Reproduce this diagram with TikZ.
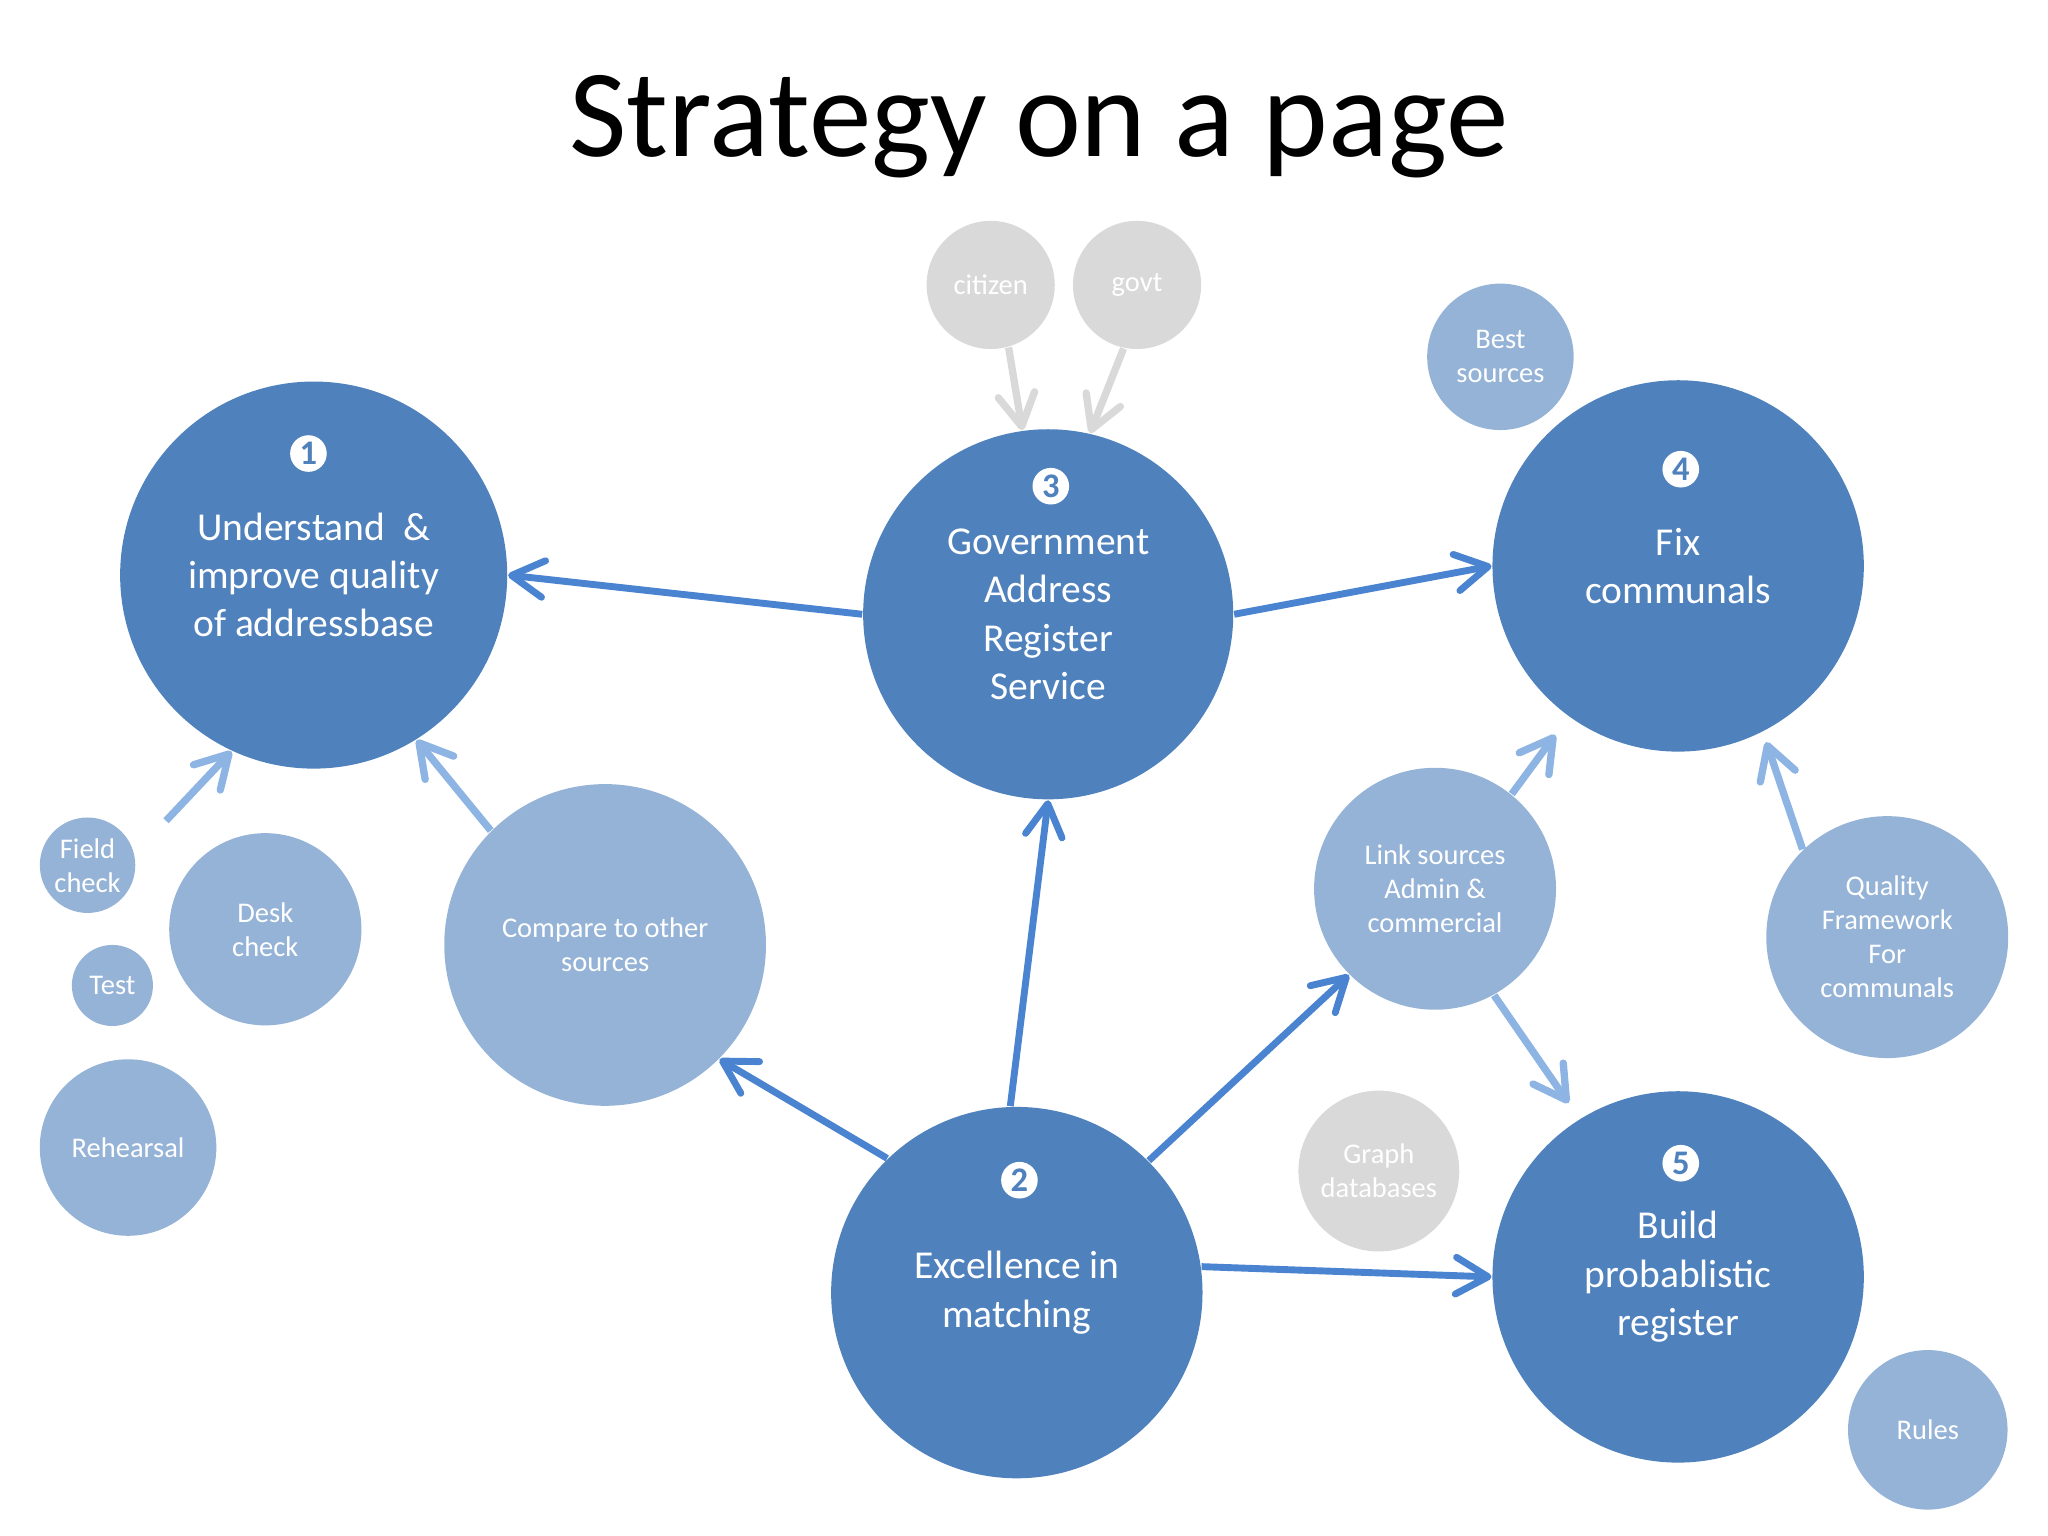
\documentclass[tikz,border=0pt]{standalone}
\usepackage{fontspec}
\setmainfont{Carlito}
\usetikzlibrary{arrows.meta}
\definecolor{goalblue}{HTML}{4F81BD}
\definecolor{taskblue}{HTML}{95B3D7}
\definecolor{arrowblue}{HTML}{4A83CF}
\definecolor{feedblue}{HTML}{8DB4E2}
\definecolor{extgray}{HTML}{D9D9D9}
\begin{document}
\begin{tikzpicture}[x=0.01cm, y=-0.01cm,
goal/.style={circle, fill=goalblue, text=white, inner sep=0pt, align=center, font=\fontsize{8.6}{10.5}\selectfont},
task/.style={circle, fill=taskblue, text=white, inner sep=0pt, align=center, font=\fontsize{6.2}{7.4}\selectfont},
ext/.style={circle, fill=extgray, text=white, inner sep=0pt, align=center, font=\fontsize{6.2}{7.4}\selectfont},
badge/.style={circle, fill=white, text=goalblue, inner sep=0pt, minimum size=0.28cm, font=\fontsize{7.5}{8}\selectfont\bfseries},
link/.style={draw=arrowblue, line width=1.5pt, -{Straight Barb[round, length=7pt, width=8pt]}},
feed/.style={draw=feedblue, line width=1.6pt, -{Straight Barb[round, length=7pt, width=8pt]}},
input/.style={draw=extgray, line width=1.6pt, -{Straight Barb[round, length=7pt, width=8pt]}},
]
\useasboundingbox (0,0) rectangle (1567,1175);
\node[anchor=base, font=\fontsize{27.2}{30}\selectfont] (title) at (795,120) {Strategy on a page};

% main goals
\node[goal, minimum size=2.96cm] (understand) at (240,440) {Understand\ \ \&\\improve quality\\of addressbase};
\node[goal, minimum size=2.83cm] (gars) at (802,470) {Government\\Address\\Register\\Service};
\node[goal, minimum size=2.84cm] (fix) at (1284,433) {Fix\\communals};
\node[goal, minimum size=2.84cm] (match) at (778,989) {Excellence in\\matching};
\node[goal, minimum size=2.84cm] (build) at (1284,977) {Build\\probablistic\\register};
\node[badge] (b1) at (236,347) {1};
\node[badge] (b3) at (804,372) {3};
\node[badge] (b4) at (1286,359) {4};
\node[badge] (b2) at (780,903) {2};
\node[badge] (b5) at (1286,890) {5};

% supporting work
\node[task, minimum size=2.46cm] (compare) at (463,723) {Compare to other\\sources};
\node[task, minimum size=1.85cm] (linksrc) at (1098,680) {Link sources\\Admin \&\\commercial};
\node[task, minimum size=1.85cm] (quality) at (1444,717) {Quality\\Framework\\For\\communals};
\node[task, minimum size=1.12cm] (best) at (1148,273) {Best\\sources};
\node[task, minimum size=1.22cm] (rules) at (1475,1094) {Rules};
\node[task, minimum size=0.73cm] (field) at (67,662) {Field\\check};
\node[task, minimum size=1.47cm] (desk) at (203,711) {Desk\\check};
\node[task, minimum size=0.62cm] (test) at (86,754) {Test};
\node[task, minimum size=1.35cm] (rehearsal) at (98,878) {Rehearsal};
\node[ext, minimum size=0.98cm] (citizen) at (758,218) {citizen};
\node[ext, minimum size=0.98cm] (govt) at (870,218) {govt};
\node[ext, minimum size=1.23cm] (graph) at (1055,896) {Graph\\databases};
\coordinate (fieldtail) at (127,628);

% connectors
\draw[link] (gars.west) -- (understand.east);
\draw[link] (gars.east) -- (fix.west);
\draw[link] (match.92) -- (gars.south);
\draw[link] (match.134) -- (compare.-45);
\draw[link] (match.45) -- (linksrc.225);
\draw[link] (match.8) -- (build.west);
\draw[feed, shorten >=0.17cm] (linksrc.51) -- (fix.234.5);
\draw[feed, shorten >=0.145cm] (linksrc.-61) -- (build.122.5);
\draw[feed, shorten >=0.08cm] (quality.134.5) -- (fix.-63);
\draw[feed] (compare.135) -- (understand.-58);
\draw[feed] (fieldtail) -- (understand.245);
\draw[input] (citizen.-74) -- (gars.98);
\draw[input] (govt.258) -- (gars.77);
\end{tikzpicture}
\end{document}
